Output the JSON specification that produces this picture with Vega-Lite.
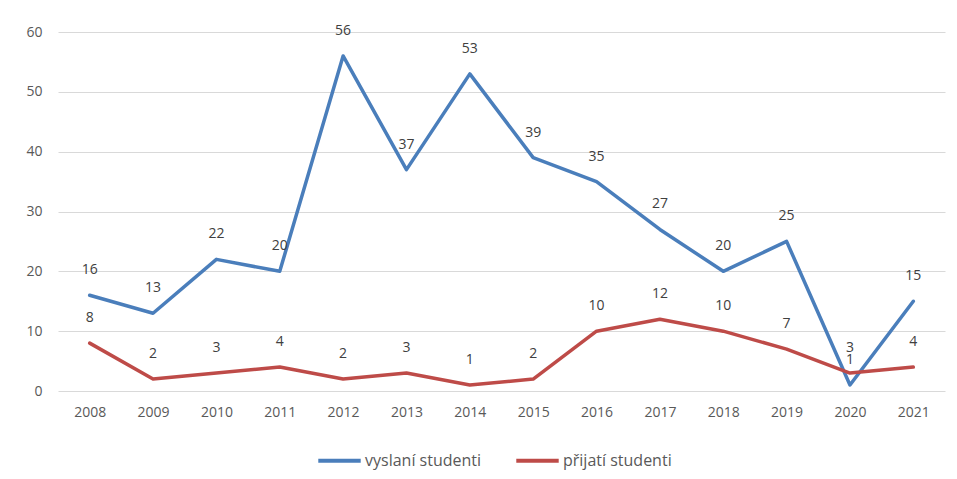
{
  "$schema": "https://vega.github.io/schema/vega-lite/v6.json",
  "width": 887,
  "height": 359,
  "autosize": {"type": "none"},
  "padding": {"left": 58, "top": 32, "right": 12, "bottom": 88},
  "background": "white",
  "config": {
    "font": "Open Sans",
    "view": {"stroke": null}
  },
  "data": {
    "values": [
      {"rok": "2008", "serie": "vyslaní studenti", "pocet": 16},
      {"rok": "2009", "serie": "vyslaní studenti", "pocet": 13},
      {"rok": "2010", "serie": "vyslaní studenti", "pocet": 22},
      {"rok": "2011", "serie": "vyslaní studenti", "pocet": 20},
      {"rok": "2012", "serie": "vyslaní studenti", "pocet": 56},
      {"rok": "2013", "serie": "vyslaní studenti", "pocet": 37},
      {"rok": "2014", "serie": "vyslaní studenti", "pocet": 53},
      {"rok": "2015", "serie": "vyslaní studenti", "pocet": 39},
      {"rok": "2016", "serie": "vyslaní studenti", "pocet": 35},
      {"rok": "2017", "serie": "vyslaní studenti", "pocet": 27},
      {"rok": "2018", "serie": "vyslaní studenti", "pocet": 20},
      {"rok": "2019", "serie": "vyslaní studenti", "pocet": 25},
      {"rok": "2020", "serie": "vyslaní studenti", "pocet": 1},
      {"rok": "2021", "serie": "vyslaní studenti", "pocet": 15},
      {"rok": "2008", "serie": "přijatí studenti", "pocet": 8},
      {"rok": "2009", "serie": "přijatí studenti", "pocet": 2},
      {"rok": "2010", "serie": "přijatí studenti", "pocet": 3},
      {"rok": "2011", "serie": "přijatí studenti", "pocet": 4},
      {"rok": "2012", "serie": "přijatí studenti", "pocet": 2},
      {"rok": "2013", "serie": "přijatí studenti", "pocet": 3},
      {"rok": "2014", "serie": "přijatí studenti", "pocet": 1},
      {"rok": "2015", "serie": "přijatí studenti", "pocet": 2},
      {"rok": "2016", "serie": "přijatí studenti", "pocet": 10},
      {"rok": "2017", "serie": "přijatí studenti", "pocet": 12},
      {"rok": "2018", "serie": "přijatí studenti", "pocet": 10},
      {"rok": "2019", "serie": "přijatí studenti", "pocet": 7},
      {"rok": "2020", "serie": "přijatí studenti", "pocet": 3},
      {"rok": "2021", "serie": "přijatí studenti", "pocet": 4}
    ]
  },
  "encoding": {
    "x": {
      "field": "rok", "type": "ordinal",
      "scale": {"type": "point", "padding": 0.5},
      "axis": {"title": null, "labelAngle": 0, "ticks": false, "domain": false, "labelPadding": 14, "grid": false, "labelFontSize": 14, "labelColor": "#595959", "labelFont": "Open Sans"}
    },
    "y": {
      "field": "pocet", "type": "quantitative",
      "scale": {"domain": [0, 60], "nice": false},
      "axis": {"title": null, "values": [0, 10, 20, 30, 40, 50, 60], "ticks": false, "domain": false, "labelPadding": 16, "gridColor": "#d9d9d9", "gridWidth": 1, "labelFontSize": 14, "labelColor": "#595959", "labelFont": "Open Sans"}
    }
  },
  "layer": [
    {
      "mark": {"type": "line", "strokeWidth": 3.5, "strokeJoin": "round", "strokeCap": "round"},
      "encoding": {
        "color": {
          "field": "serie", "type": "nominal",
          "scale": {"domain": ["vyslaní studenti", "přijatí studenti"], "range": ["#4a7ebb", "#be4b48"]},
          "legend": {
            "title": null, "orient": "none", "legendX": 258, "legendY": 405, "direction": "horizontal",
            "symbolType": "stroke", "symbolStrokeWidth": 4, "symbolSize": 1800,
            "labelFont": "Open Sans", "labelFontSize": 16, "labelColor": "#595959",
            "columnPadding": 26, "labelOffset": 2
          }
        }
      }
    },
    {
      "mark": {"type": "text", "dy": -25, "fontSize": 14, "color": "#404040", "font": "Open Sans"},
      "encoding": {"text": {"field": "pocet", "type": "quantitative"}, "detail": {"field": "serie"}}
    }
  ]
}
